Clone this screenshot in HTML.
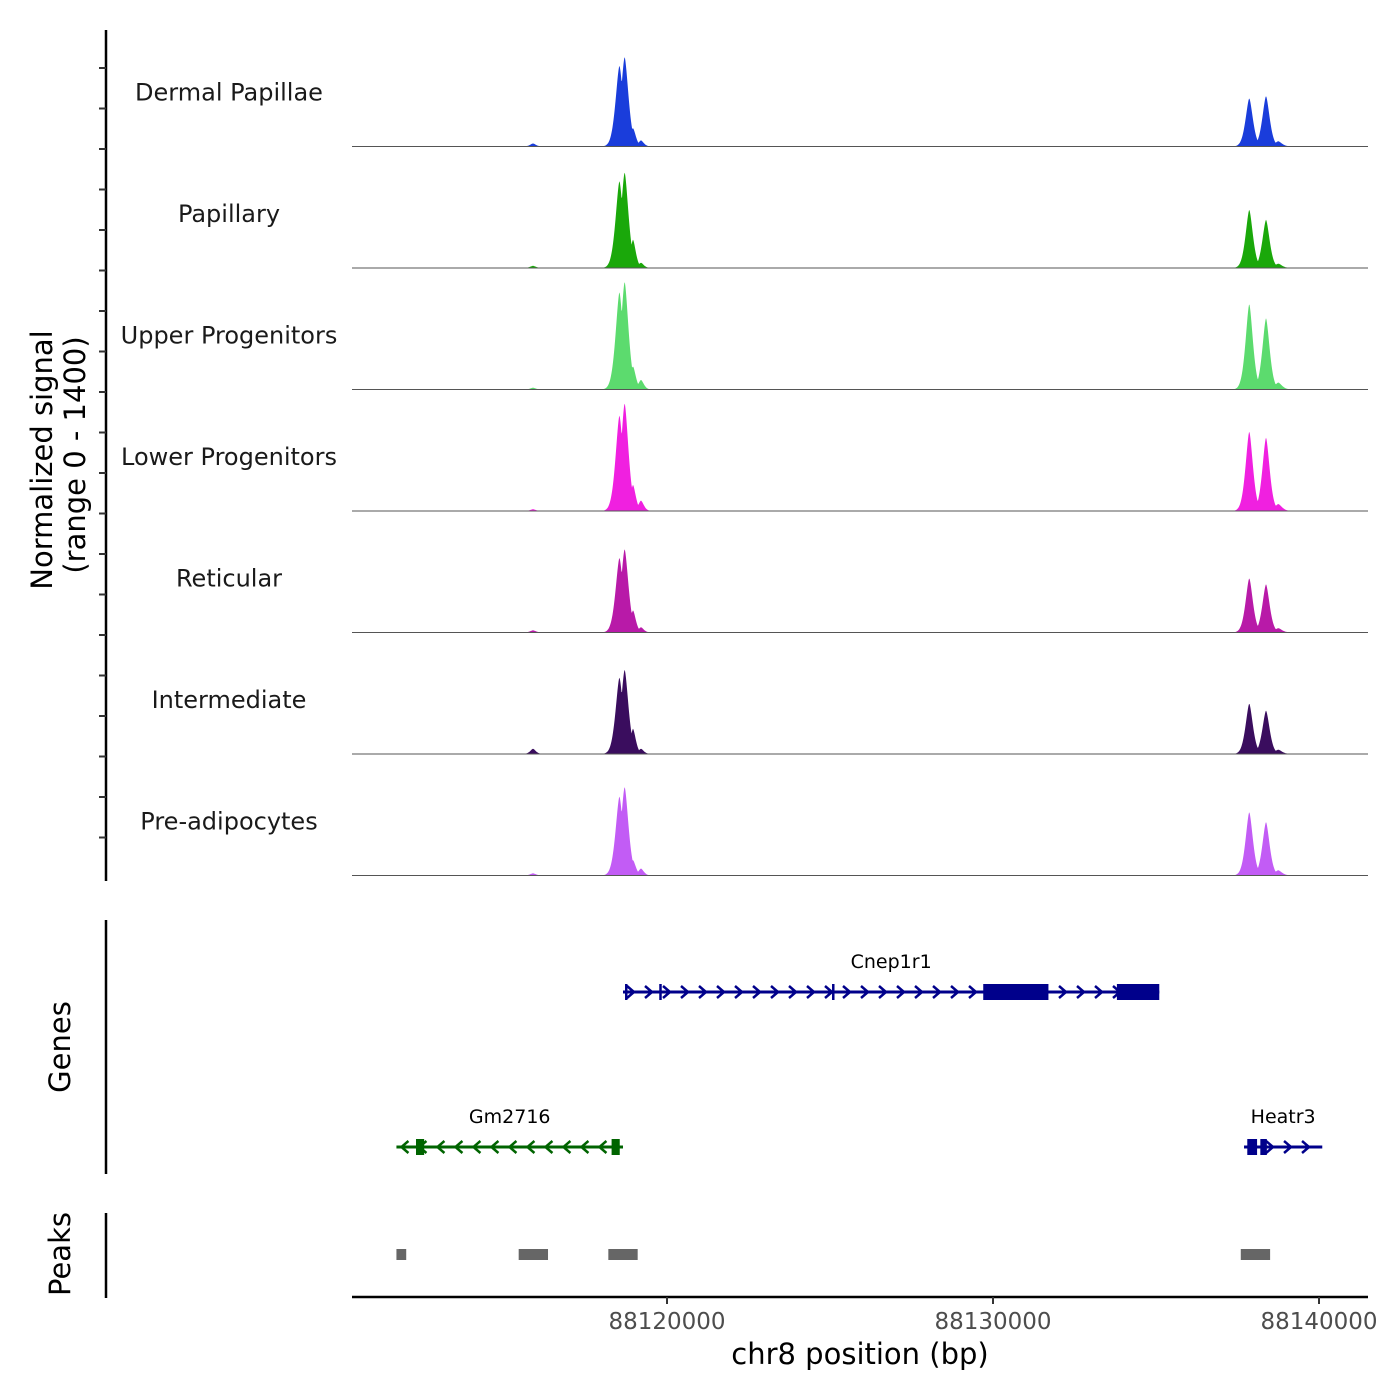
<!DOCTYPE html>
<html><head><meta charset="utf-8"><style>
body{margin:0;background:#fff}
svg{display:block;font-family:"DejaVu Sans","Liberation Sans",sans-serif}
</style></head><body>
<svg id="chart" width="1400" height="1400" viewBox="0 0 1400 1400">
<g id="tracks"></g>
<g id="axes"></g>
<g id="genes"></g>
<g id="peaks"></g>
</svg>
<script>
// Data
const trackNames = ["Dermal Papillae","Papillary","Upper Progenitors","Lower Progenitors","Reticular","Intermediate","Pre-adipocytes"];
const trackColors = ["#1a3ddb","#1aa80a","#5cdb6e","#f020e0","#b81aa8","#3a0d5e","#c25cf5"];
const peakCenters = [88115889, 88118540, 88118700, 88118957, 88119202, 88137860, 88138374, 88138750];
const peakSignal = [
  [35, 930, 1030, 210, 70, 555, 580, 60],
  [25, 1000, 1100, 325, 60, 670, 555, 50],
  [20, 1120, 1240, 265, 110, 985, 820, 80],
  [20, 1100, 1240, 300, 120, 915, 845, 80],
  [25, 860, 960, 255, 60, 625, 555, 50],
  [60, 880, 970, 290, 60, 580, 500, 50],
  [25, 910, 1020, 175, 80, 730, 615, 60]
];
const xTicks = [88120000, 88130000, 88140000];
const peakRegions = [[88111700,88112000],[88115450,88116350],[88118200,88119100],[88137600,88138500]];
const genes = [
  {name:"Cnep1r1", start:88118650, end:88135100, strand:1, row:0, color:"#00008b",
   exons:[[88129700,88131700],[88133800,88135100]], marks:[88118750,88119800,88125100]},
  {name:"Gm2716", start:88111700, end:88118650, strand:-1, row:1, color:"#006400",
   exons:[[88112300,88112550],[88118300,88118550]], marks:[]},
  {name:"Heatr3", start:88137700, end:88140100, strand:1, row:1, color:"#00008b",
   exons:[[88137800,88138100],[88138200,88138400]], marks:[]}
];

const X0=352, X1=1368, BP0=88110337, PXPB=0.0326;
const xs = bp => X0 + (bp-BP0)*PXPB;
const TRACK_TOP=25, TRACK_H=121.5, MAXV=1400;
const NS="http://www.w3.org/2000/svg";
function mk(tag, attrs, parent, text){
  const e=document.createElementNS(NS,tag);
  for(const k in attrs) e.setAttribute(k,attrs[k]);
  if(text!==undefined) e.textContent=text;
  parent.appendChild(e); return e;
}
const tracksG=document.getElementById('tracks');
trackNames.forEach((name,i)=>{
  const base=TRACK_TOP+TRACK_H*(i+1);
  const ys=v=>base - v/MAXV*TRACK_H;
  const g=mk('g',{},tracksG);
  
  
  const lbl=mk('text',{x:229,y:base-46,'text-anchor':'middle','font-size':24,fill:'#1a1a1a'},g,name);
  
  
  let pts=[[X0,base]];
  for(let x=X0;x<=X1;x+=0.5){
    const bp=BP0+(x-X0)/PXPB;
    let v=0;
    peakCenters.forEach((c,j)=>{const s=(j===1||j===2)?110:(j>=5?105:80); const d=(bp-c)/s; const w=peakSignal[i][j]*Math.exp(-Math.pow(Math.abs(d),1.6)/2); if(w>v) v=w;});
    pts.push([x,ys(v)]);
  }
  pts.push([X1,base]);
  const p=mk('polygon',{points:pts.map(q=>q[0].toFixed(1)+','+q[1].toFixed(1)).join(' '),fill:trackColors[i]},g);
  
  
  const bl=mk('line',{x1:X0,x2:X1,y1:base,y2:base,stroke:'#555','stroke-width':1},g);
  
  
});
const ax=document.getElementById('axes');
mk('line',{x1:106,x2:106,y1:30,y2:881,stroke:'#000','stroke-width':2.5},ax);
for(let k=0;k<21;k++){const y=27+40.5*k+0.5*(k>0?1:0); if(y>30&&y<881) mk('line',{x1:99,x2:106,y1:y,y2:y,stroke:'#333','stroke-width':2},ax);}
const yt=mk('text',{transform:'translate(52,460) rotate(-90)','text-anchor':'middle','font-size':29,fill:'#000'},ax,'Normalized signal');


const yt2=mk('text',{transform:'translate(85,455) rotate(-90)','text-anchor':'middle','font-size':29,fill:'#000'},ax,'(range 0 - 1400)');


mk('line',{x1:106,x2:106,y1:920,y2:1174,stroke:'#000','stroke-width':2.5},ax);
const gt=mk('text',{transform:'translate(70,1047) rotate(-90)','text-anchor':'middle','font-size':29,fill:'#000'},ax,'Genes');


mk('line',{x1:106,x2:106,y1:1213,y2:1298,stroke:'#000','stroke-width':2.5},ax);
const pt=mk('text',{transform:'translate(70,1254) rotate(-90)','text-anchor':'middle','font-size':29,fill:'#000'},ax,'Peaks');


mk('line',{x1:X0,x2:X1,y1:1297,y2:1297,stroke:'#000','stroke-width':2.5},ax);
xTicks.forEach(t=>{
  const x=xs(t);
  mk('line',{x1:x,x2:x,y1:1297,y2:1304,stroke:'#333','stroke-width':2},ax);
  const tl=mk('text',{x:x,y:1329,'text-anchor':'middle','font-size':23,fill:'#4d4d4d'},ax,String(t));
  
  
});
const xt=mk('text',{x:860,y:1364,'text-anchor':'middle','font-size':29,fill:'#000'},ax,'chr8 position (bp)');



const gg=document.getElementById('genes');
genes.forEach(g=>{
  const y=g.row===0?992:1147;
  const G=mk('g',{},gg);
  
  
  const x1=xs(g.start), x2=xs(g.end);
  mk('line',{x1:x1,x2:x2,y1:y,y2:y,stroke:g.color,'stroke-width':3},G);
  for(let x=x1+8;x<x2-4;x+=18){
    const d=g.strand>0?[x-4,x+3]:[x+4,x-3];
    mk('polyline',{points:`${d[0]},${y-6} ${d[1]},${y} ${d[0]},${y+6}`,fill:'none',stroke:g.color,'stroke-width':2.5},G);
  }
  g.marks.forEach(m=>mk('line',{x1:xs(m),x2:xs(m),y1:y-8,y2:y+8,stroke:g.color,'stroke-width':2.5},G));
  g.exons.forEach(e=>mk('rect',{x:xs(e[0]),y:y-8,width:xs(e[1])-xs(e[0]),height:16,fill:g.color},G));
  const lb=mk('text',{x:(x1+x2)/2,y:y-24,'text-anchor':'middle','font-size':19,fill:'#000'},G,g.name);
  
  
});
const pg=document.getElementById('peaks');
peakRegions.forEach(r=>{
  const e=mk('rect',{x:xs(r[0]),y:1249,width:xs(r[1])-xs(r[0]),height:11,fill:'#666'},pg);
  
  
});
</script>
</body></html>
